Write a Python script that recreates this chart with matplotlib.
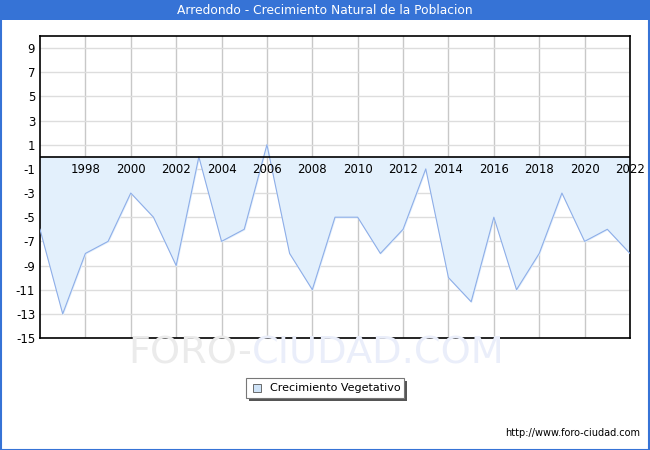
import matplotlib.pyplot as plt
from matplotlib.patches import Rectangle

plt.rcParams['axes.unicode_minus'] = False

# data
years = list(range(1996, 2023))
crecimiento = [-6, -13, -8, -7, -3, -5, -9, 0, -7, -6, 1, -8, -11, -5,
               -5, -8, -6, -1, -10, -12, -5, -11, -8, -3, -7, -6, -8]
year_ticks = list(range(1998, 2023, 2))
y_ticks = list(range(9, -16, -2))

title = 'Arredondo - Crecimiento Natural de la Poblacion'
blue = '#3673d6'

fig = plt.figure(figsize=(6.5, 4.5), dpi=100)

# title bar and frame
fig.patches.append(Rectangle((0, 1 - 20 / 450), 1, 20 / 450, transform=fig.transFigure,
                             facecolor=blue, edgecolor='none', zorder=0))
fig.patches.append(Rectangle((0.5 / 650, 0.5 / 450), 648 / 650, 448 / 450, transform=fig.transFigure,
                             facecolor='none', edgecolor=blue, linewidth=1.5, zorder=5))
fig.text(0.5, 1 - 11 / 450, title, color='white', ha='center', va='center', fontsize=8.8)

ax = fig.add_axes([40 / 650, 1 - 338 / 450, 590 / 650, 302 / 450])
ax.set_xlim(1996, 2022)
ax.set_ylim(-15, 10)

ax.fill_between(years, crecimiento, 0, color='#e3f0fc', zorder=1)
ax.plot(years, crecimiento, color='#8eaee8', linewidth=0.8, zorder=3)
ax.axhline(0, color='black', linewidth=1.2, zorder=4)

ax.set_yticks(y_ticks)
ax.set_xticks(year_ticks)
ax.set_xticklabels([])
ax.tick_params(length=0, labelsize=8.5)
ax.grid(axis='y', color='#dddddd', linewidth=1, zorder=0)
ax.grid(axis='x', color='#c8c8c8', linewidth=1, zorder=0)
ax.set_axisbelow(True)
for y in year_ticks:
    ax.text(y, -0.55, str(y), ha='center', va='top', fontsize=8.5, zorder=5)
for s in ax.spines.values():
    s.set_linewidth(1.2)

# watermark
fig.text(252 / 650, 1 - 353 / 450, 'FORO-', color='#ebebeb', fontsize=27.5, ha='right', va='center', zorder=0)
fig.text(252 / 650, 1 - 353 / 450, 'CIUDAD.COM', color='#eaeefa', fontsize=27.5, ha='left', va='center', zorder=0)

# legend with shadow
lx, ly, lw, lh = 246, 378, 158, 20
fig.patches.append(Rectangle(((lx + 3) / 650, 1 - (ly + lh + 3) / 450), lw / 650, lh / 450,
                             transform=fig.transFigure, facecolor='#555555', edgecolor='none', zorder=2))
fig.patches.append(Rectangle((lx / 650, 1 - (ly + lh) / 450), lw / 650, lh / 450,
                             transform=fig.transFigure, facecolor='white', edgecolor='#777777',
                             linewidth=0.8, zorder=3))
fig.patches.append(Rectangle(((lx + 7) / 650, 1 - (ly + 14) / 450), 8 / 650, 8 / 450,
                             transform=fig.transFigure, facecolor='#cfe3f7', edgecolor='#555555',
                             linewidth=0.6, zorder=4))
fig.text((lx + 24) / 650, 1 - (ly + 10) / 450, 'Crecimiento Vegetativo', fontsize=8,
         va='center', ha='left', zorder=5)

fig.text(640 / 650, 1 - 433 / 450, 'http://www.foro-ciudad.com', fontsize=7, ha='right', va='center')

fig.savefig('out.png', dpi=100)
